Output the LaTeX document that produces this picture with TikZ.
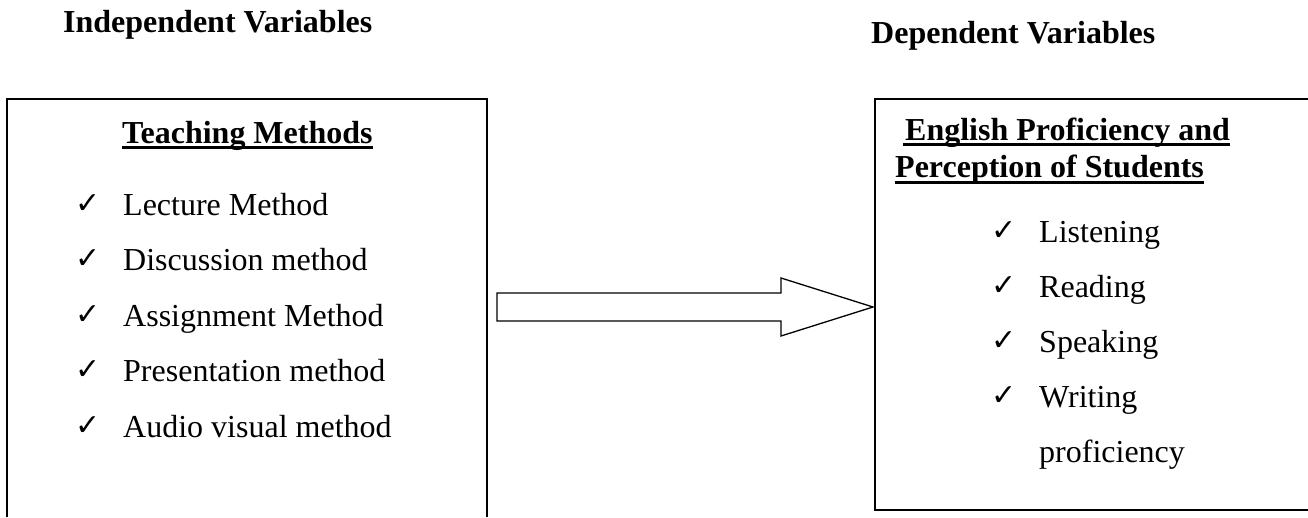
\documentclass[tikz,border=0pt]{standalone}
\usepackage{fontspec}
\setmainfont{Liberation Serif}
\newfontfamily\symfont{DejaVu Sans}
\usetikzlibrary{calc}

\tikzset{
  frame/.style={line width=2pt, black},
  blockarrow/.style={line width=1.3pt, black, line join=miter, fill=white},
  heading/.style={anchor=base west, inner sep=0pt,
    font=\fontsize{32}{38}\selectfont\bfseries},
  item/.style={anchor=base west, inner sep=0pt,
    font=\fontsize{32}{38}\selectfont},
  tick/.style={anchor=base west, inner sep=0pt,
    font=\symfont\fontsize{30}{34}\selectfont},
  uline/.style={line width=3pt, black},
}

\newcommand{\ticked}[4]{% name, x, baseline, text
  \node[tick] (#1c) at (#2-2,#3-2) {✓};
  \node[item] (#1) at (#2+46,#3) {#4};
}

\begin{document}
\begin{tikzpicture}[x=1pt, y=-1pt]
  \useasboundingbox (0,0) rectangle (1308,517);

  % column captions
  \node[heading] (indep) at (63,32) {Independent Variables};
  \node[heading] (dep)   at (871,43) {Dependent Variables};

  % left frame (open at the bottom)
  \draw[frame] (7,517) -- (7,99) -- (487,99) -- (487,517);

  % right frame (open at the right)
  \draw[frame] (1308,99) -- (875,99) -- (875,510) -- (1308,510);

  % block arrow between the frames
  \draw[blockarrow] (497,293) -- (781,293) -- (781,278) -- (873,307)
    -- (781,336) -- (781,321) -- (497,321) -- cycle;

  % left frame contents
  \node[heading] (tm) at (122,143) {Teaching Methods};
  \draw[uline] ($(tm.base west)+(0,4.5)$) -- ($(tm.base east)+(0,4.5)$);

  \ticked{lecture}{77}{215}{Lecture Method}
  \ticked{discussion}{77}{270}{Discussion method}
  \ticked{assignment}{77}{326}{Assignment Method}
  \ticked{presentation}{77}{381}{Presentation method}
  \ticked{audio}{77}{437}{Audio visual method}

  % right frame contents
  \node[heading] (ep) at (905,140) {English Proficiency and};
  \draw[uline] ($(ep.base west)+(-2,4.5)$) -- ($(ep.base east)+(0,4.5)$);
  \node[heading] (ps) at (895,177) {Perception of Students};
  \draw[uline] ($(ps.base west)+(0,5.5)$) -- ($(ps.base east)+(0,5.5)$);

  \ticked{listening}{993}{242}{Listening}
  \ticked{reading}{993}{297}{Reading}
  \ticked{speaking}{993}{352}{Speaking}
  \ticked{writing}{993}{407}{Writing}
  \node[item] (prof) at (1039,462) {proficiency};
\end{tikzpicture}
\end{document}
